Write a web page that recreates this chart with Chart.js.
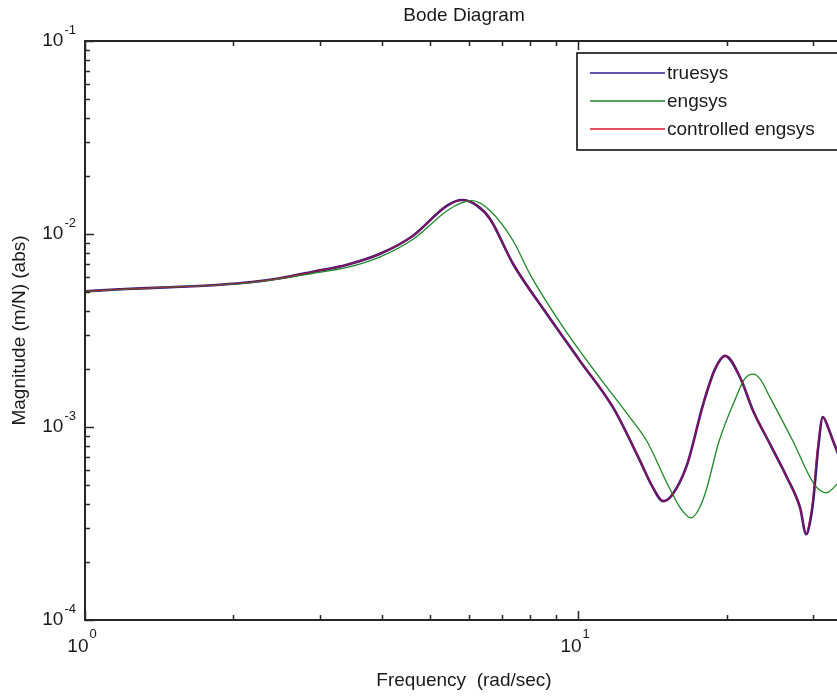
<!DOCTYPE html>
<html><head><meta charset="utf-8">
<script src="https://cdn.jsdelivr.net/npm/chart.js@4.4.1/dist/chart.umd.min.js"></script>
<style>html,body{margin:0;padding:0;background:#fff;}#wrap{width:837px;height:696px;position:relative;overflow:hidden}</style>
</head><body><div id="wrap"><canvas id="c" width="837" height="696"></canvas></div>
<script>
// ---- data ----
const seriesNames = ['truesys', 'engsys', 'controlled engsys'];

const freqTrue = [1.000, 1.178, 1.487, 1.878, 2.161, 2.486, 2.901, 3.400, 3.967, 4.627, 5.424, 5.817, 6.238, 6.630, 7.383, 8.650, 10.09, 11.78, 13.36, 14.13, 14.88, 15.51, 16.64, 17.93, 18.96, 19.87, 21.32, 22.65, 24.52, 26.54, 28.20, 29.01, 29.55, 29.97, 30.68, 31.36, 32.15, 32.90, 34.00];
const magTrue  = [5.05e-3, 5.17e-3, 5.30e-3, 5.46e-3, 5.62e-3, 5.90e-3, 6.37e-3, 6.93e-3, 7.90e-3, 9.80e-3, 1.403e-2, 1.501e-2, 1.403e-2, 1.196e-2, 6.99e-3, 3.84e-3, 2.20e-3, 1.259e-3, 6.66e-4, 4.94e-4, 4.13e-4, 4.44e-4, 6.40e-4, 1.311e-3, 2.00e-3, 2.335e-3, 1.80e-3, 1.21e-3, 8.13e-4, 5.46e-4, 3.81e-4, 2.78e-4, 3.25e-4, 4.13e-4, 7.81e-4, 1.127e-3, 9.92e-4, 8.46e-4, 6.82e-4];

const freqEng = [1.000, 1.487, 2.161, 2.901, 3.400, 3.967, 4.627, 5.424, 5.817, 6.089, 6.630, 7.383, 7.985, 9.330, 10.92, 12.75, 13.78, 15.31, 16.18, 16.93, 17.57, 18.16, 19.32, 20.89, 21.77, 22.65, 23.38, 24.52, 27.26, 30.14, 31.81, 34.00];
const magEng  = [5.05e-3, 5.30e-3, 5.60e-3, 6.26e-3, 6.71e-3, 7.62e-3, 9.40e-3, 1.321e-2, 1.454e-2, 1.488e-2, 1.321e-2, 9.23e-3, 6.20e-3, 3.28e-3, 1.877e-3, 1.117e-3, 8.46e-4, 4.84e-4, 3.75e-4, 3.38e-4, 3.75e-4, 4.65e-4, 8.46e-4, 1.419e-3, 1.774e-3, 1.877e-3, 1.774e-3, 1.419e-3, 8.46e-4, 5.04e-4, 4.56e-4, 5.25e-4];

const freqCtrl = [1.000, 1.178, 1.487, 1.878, 2.161, 2.486, 2.901, 3.400, 3.967, 4.627, 5.424, 5.817, 6.238, 6.630, 7.383, 8.650, 10.09, 11.78, 13.36, 14.13, 14.88, 15.51, 16.64, 17.93, 18.96, 19.87, 21.32, 22.65, 24.52, 26.54, 28.20, 29.01, 29.50, 29.90, 30.60, 31.36, 32.15, 32.90, 34.00];
const magCtrl  = [5.05e-3, 5.17e-3, 5.30e-3, 5.46e-3, 5.62e-3, 5.90e-3, 6.37e-3, 6.93e-3, 7.90e-3, 9.80e-3, 1.403e-2, 1.501e-2, 1.403e-2, 1.196e-2, 6.99e-3, 3.84e-3, 2.20e-3, 1.259e-3, 6.66e-4, 4.94e-4, 4.13e-4, 4.44e-4, 6.40e-4, 1.311e-3, 2.00e-3, 2.335e-3, 1.80e-3, 1.21e-3, 8.13e-4, 5.46e-4, 3.81e-4, 2.78e-4, 3.30e-4, 4.20e-4, 7.90e-4, 1.127e-3, 9.92e-4, 8.46e-4, 6.82e-4];

const xTickValues = [1, 10];
const xTickExponents = ['0', '1'];
const yTickValues = [1e-4, 1e-3, 1e-2, 1e-1];
const yTickExponents = ['-4', '-3', '-2', '-1'];

const titleText = 'Bode Diagram';
const xLabelText = 'Frequency  (rad/sec)';
const yLabelText = 'Magnitude (m/N) (abs)';

// ---- chart ----
const FONT = "'Liberation Sans', Arial, Helvetica, sans-serif";
const toPts = (xs, ys) => xs.map((x, i) => ({x: x, y: ys[i]}));

const matlabAxes = {
  id: 'matlabAxes',
  afterDatasetsDraw(chart) {
    const ctx = chart.ctx, a = chart.chartArea, xs = chart.scales.x, ys = chart.scales.y;
    ctx.save();
    ctx.strokeStyle = '#262626';
    ctx.fillStyle = '#1a1a1a';
    ctx.lineWidth = 1.5;
    const lx0 = Math.floor(Math.log10(xs.min)), lx1 = Math.ceil(Math.log10(xs.max));
    for (let e = lx0; e <= lx1; e++) {
      for (let m = 1; m <= 9; m++) {
        const v = m * Math.pow(10, e);
        if (v < xs.min - 1e-12 || v > xs.max) continue;
        const p = Math.round(xs.getPixelForValue(v)) + 0.5;
        const len = m === 1 ? 9 : 5;
        ctx.beginPath();
        ctx.moveTo(p, a.bottom); ctx.lineTo(p, a.bottom - len);
        ctx.moveTo(p, a.top); ctx.lineTo(p, a.top + len);
        ctx.stroke();
      }
    }
    const ly0 = Math.floor(Math.log10(ys.min) + 1e-9), ly1 = Math.ceil(Math.log10(ys.max) - 1e-9);
    for (let e = ly0; e <= ly1; e++) {
      for (let m = 1; m <= 9; m++) {
        const v = m * Math.pow(10, e);
        if (v < ys.min * 0.999 || v > ys.max * 1.001) continue;
        const p = Math.round(ys.getPixelForValue(v)) + 0.5;
        const len = m === 1 ? 9 : 5;
        ctx.beginPath();
        ctx.moveTo(a.left, p); ctx.lineTo(a.left + len, p);
        ctx.stroke();
      }
    }
    ctx.lineWidth = 2;
    ctx.beginPath();
    ctx.moveTo(a.right + 20, a.top); ctx.lineTo(a.left, a.top);
    ctx.lineTo(a.left, a.bottom); ctx.lineTo(a.right + 20, a.bottom);
    ctx.stroke();

    const big = '19px ' + FONT, small = '13px ' + FONT;
    ctx.textBaseline = 'middle';
    ctx.textAlign = 'left';
    yTickValues.forEach((v, i) => {
      const p = ys.getPixelForValue(v);
      ctx.font = big; const w1 = ctx.measureText('10').width;
      ctx.font = small; const w2 = ctx.measureText(yTickExponents[i]).width;
      const right = a.left - 9;
      ctx.font = big; ctx.fillText('10', right - w2 - w1 - 1, p);
      ctx.font = small; ctx.fillText(yTickExponents[i], right - w2, p - 11);
    });
    xTickValues.forEach((v, i) => {
      const p = xs.getPixelForValue(v);
      ctx.font = big; const w1 = ctx.measureText('10').width;
      ctx.font = small; const w2 = ctx.measureText(xTickExponents[i]).width;
      const left = p - 3 - (w1 + w2 + 1) / 2;
      ctx.font = big; ctx.fillText('10', left, a.bottom + 27);
      ctx.font = small; ctx.fillText(xTickExponents[i], left + w1 + 1, a.bottom + 14);
    });

    const cx = 464;
    ctx.textAlign = 'center';
    ctx.font = '19px ' + FONT;
    ctx.fillText(titleText, cx, 16);
    ctx.fillText(xLabelText, cx, 681);
    ctx.save();
    ctx.translate(20, (a.top + a.bottom) / 2);
    ctx.rotate(-Math.PI / 2);
    ctx.fillText(yLabelText, 0, 0);
    ctx.restore();

    const bx = 577, by = 53, bw = 300, bh = 97;
    ctx.fillStyle = '#fff';
    ctx.fillRect(bx, by, bw, bh);
    ctx.strokeStyle = '#111'; ctx.lineWidth = 1.6;
    ctx.strokeRect(bx, by, bw, bh);
    ctx.textAlign = 'left';
    const legendColors = ['rgb(40,30,150)', 'rgb(30,135,40)', 'rgb(215,25,40)'];
    chart.data.datasets.forEach((ds, i) => {
      const yy = by + 20 + i * 28;
      ctx.strokeStyle = legendColors[i]; ctx.lineWidth = 1.3;
      ctx.beginPath(); ctx.moveTo(bx + 13, yy); ctx.lineTo(bx + 88, yy); ctx.stroke();
      ctx.fillStyle = '#1a1a1a'; ctx.font = '19px ' + FONT;
      ctx.fillText(ds.label, bx + 90, yy + 1);
    });
    ctx.restore();
  }
};

new Chart(document.getElementById('c'), {
  type: 'line',
  data: {
    datasets: [
      {label: seriesNames[0], data: toPts(freqTrue, magTrue), borderColor: 'rgb(50,20,130)', borderWidth: 2.6, order: 2},
      {label: seriesNames[1], data: toPts(freqEng, magEng), borderColor: 'rgb(30,135,40)', borderWidth: 1.3, order: 1},
      {label: seriesNames[2], data: toPts(freqCtrl, magCtrl), borderColor: 'rgba(200,20,50,0.75)', borderWidth: 1.1, order: 0}
    ]
  },
  options: {
    responsive: false,
    animation: false,
    devicePixelRatio: 1,
    layout: {padding: {left: 85, top: 41, right: 0, bottom: 76}},
    elements: {point: {radius: 0}, line: {cubicInterpolationMode: 'monotone', fill: false}},
    scales: {
      x: {type: 'logarithmic', display: false, min: 1, max: 33.5},
      y: {type: 'logarithmic', display: false, min: 1e-4, max: 1e-1}
    },
    plugins: {legend: {display: false}, tooltip: {enabled: false}, title: {display: false}}
  },
  plugins: [matlabAxes]
});
</script></body></html>
